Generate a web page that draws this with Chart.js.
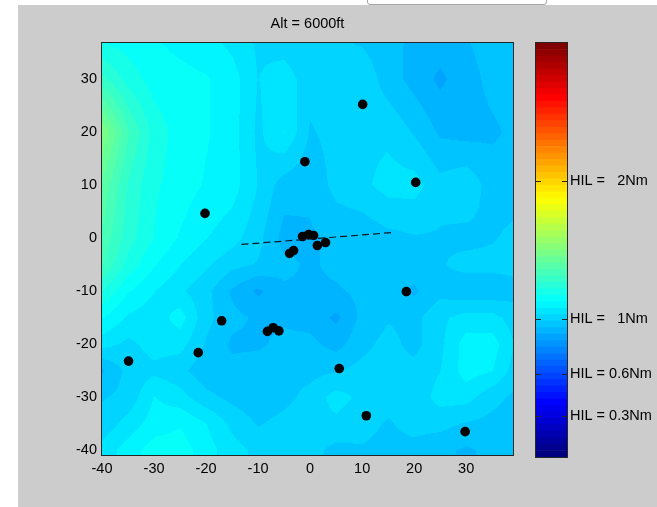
<html>
<head>
<title>Alt = 6000ft</title>
<style>
  body { margin: 0; width: 657px; height: 507px; background: #fff; position: relative; overflow: hidden; }
  #fig { position: absolute; left: 18px; top: 5px; right: 0; bottom: 0; background: #cccccc; }
  #btn { position: absolute; left: 367px; top: -3px; width: 178px; height: 6px; background: #fff;
         border: 1px solid #a8a8a8; border-radius: 0 0 3px 3px; }
  #main { position: absolute; left: 0; top: 0; }
  #cbar { position: absolute; left: 530px; top: 0; }
</style>
<script src="https://cdn.jsdelivr.net/npm/chart.js@4.4.0/dist/chart.umd.min.js"></script>
</head>
<body>
<div id="fig"></div>
<div id="btn"></div>
<canvas id="main" width="657" height="507"></canvas>
<canvas id="cbar" width="127" height="507"></canvas>
<script>
// HIL field (Nm), rows top (y=40) to bottom (y=-40), columns x=-40..40
const gridX = [-40, -35, -30, -25, -20, -15, -10, -5, 0, 5, 10, 15, 20, 25, 30, 35, 40];
const gridY = [40, 30, 20, 10, 0, -5, -10, -15, -20, -25, -30, -35, -40];
const hil = [
  [1.12, 1.13, 1.12, 1.10, 1.08, 1.05, 1.02, 0.98, 0.98, 0.98, 0.96, 0.95, 0.93, 0.93, 0.94, 0.96, 0.97],
  [1.28, 1.20, 1.15, 1.14, 1.13, 1.10, 1.03, 1.06, 1.00, 1.02, 1.02, 0.96, 0.92, 0.88, 0.92, 0.95, 0.96],
  [1.50, 1.32, 1.20, 1.15, 1.13, 1.10, 1.02, 1.08, 0.98, 1.00, 1.02, 1.02, 0.98, 0.93, 0.92, 0.93, 0.95],
  [1.40, 1.26, 1.18, 1.15, 1.12, 1.10, 1.03, 0.96, 0.95, 1.00, 1.02, 1.05, 1.05, 1.00, 1.02, 0.96, 0.96],
  [1.35, 1.24, 1.17, 1.12, 1.08, 1.05, 1.00, 0.92, 0.93, 0.95, 0.95, 0.97, 0.98, 0.98, 0.97, 0.98, 1.00],
  [1.32, 1.20, 1.13, 1.08, 1.04, 1.00, 0.98, 0.95, 0.93, 0.95, 0.97, 0.95, 0.96, 0.98, 1.00, 1.00, 1.00],
  [1.22, 1.13, 1.08, 1.04, 1.00, 0.93, 0.88, 0.93, 0.93, 0.93, 0.95, 0.95, 0.93, 0.97, 0.95, 0.95, 0.97],
  [1.13, 1.07, 1.05, 1.10, 1.00, 0.95, 0.93, 0.93, 0.92, 0.88, 0.95, 0.98, 0.97, 1.02, 1.05, 1.05, 1.00],
  [1.05, 1.02, 1.05, 1.05, 0.98, 0.93, 0.93, 0.95, 0.95, 0.92, 0.97, 1.00, 0.97, 1.02, 1.10, 1.10, 1.02],
  [0.93, 1.00, 1.02, 1.00, 0.95, 0.95, 0.96, 0.97, 0.97, 0.98, 1.00, 1.00, 1.00, 1.03, 1.10, 1.08, 1.00],
  [0.98, 1.00, 1.08, 1.05, 1.00, 0.97, 0.95, 0.97, 1.00, 1.05, 1.02, 1.00, 1.00, 1.05, 1.05, 1.00, 0.97],
  [1.00, 1.05, 1.10, 1.12, 1.08, 1.02, 0.98, 1.00, 1.02, 1.02, 1.00, 0.98, 1.00, 1.00, 0.98, 0.97, 0.96],
  [1.05, 1.10, 1.15, 1.15, 1.10, 1.05, 1.02, 1.02, 1.00, 0.97, 0.98, 0.97, 0.97, 0.95, 0.93, 0.95, 0.95]
];

// sites
const ptX = [10.1, -1.0, 20.3, -20.2, -1.45, -0.3, 0.66, 1.4, 2.96, -3.94, -3.18, 18.5, -17.0, -8.2, -7.1, -6.0, -21.5, -34.9, 5.6, 10.8, 29.8];
const ptY = [25.2, 14.4, 10.5, 4.65, 0.3, 0.68, 0.49, -1.4, -0.84, -2.9, -2.35, -10.1, -15.6, -17.6, -16.9, -17.5, -21.6, -23.2, -24.6, -33.5, -36.5];

// dashed track
const trackX = [-13.2, 15.9];
const trackY = [-1.2, 1.05];

const xTicks = [-40, -30, -20, -10, 0, 10, 20, 30];
const yTicks = [-40, -30, -20, -10, 0, 10, 20, 30];
const cbTicks = [0.3, 0.6, 1, 2];
const cbLabels = ['HIL = 0.3Nm', 'HIL = 0.6Nm', 'HIL =   1Nm', 'HIL =   2Nm'];
const titleText = 'Alt = 6000ft';

const cMin = 0, cMax = 3, nColors = 64;
const font = { family: "'Liberation Sans', Arial, sans-serif", size: 14.5, weight: 'normal' };

function jet(t) {
  const f = v => Math.max(0, Math.min(1, v));
  return [f(1.5 - Math.abs(4 * t - 3)), f(1.5 - Math.abs(4 * t - 2)), f(1.5 - Math.abs(4 * t - 1))].map(v => Math.round(v * 255));
}
const cmap = [];
for (let i = 0; i < nColors; i++) cmap.push(jet(i / (nColors - 1)));

function seg(arr, v, desc) {
  for (let i = 0; i < arr.length - 1; i++) {
    const a = arr[i], b = arr[i + 1];
    if (desc ? (v <= a && v >= b) : (v >= a && v <= b)) return [i, (v - a) / (b - a)];
  }
  return desc ? (v > arr[0] ? [0, 0] : [arr.length - 2, 1]) : (v < arr[0] ? [0, 0] : [arr.length - 2, 1]);
}
function field(x, y) {
  const [i, fx] = seg(gridX, x, false);
  const [j, fy] = seg(gridY, y, true);
  const top = hil[j][i] * (1 - fx) + hil[j][i + 1] * fx;
  const bot = hil[j + 1][i] * (1 - fx) + hil[j + 1][i + 1] * fx;
  return top * (1 - fy) + bot * fy;
}

const contourPlugin = {
  id: 'contour',
  beforeDatasetsDraw(chart) {
    const { ctx, chartArea: a, scales: { x, y } } = chart;
    const w = Math.round(a.right - a.left), h = Math.round(a.bottom - a.top);
    const off = document.createElement('canvas');
    off.width = w; off.height = h;
    const octx = off.getContext('2d');
    const img = octx.createImageData(w, h);
    for (let j = 0; j < h; j++) {
      const vy = y.getValueForPixel(a.top + j + 0.5);
      for (let i = 0; i < w; i++) {
        const vx = x.getValueForPixel(a.left + i + 0.5);
        const v = field(vx, vy);
        let k = Math.floor((v - cMin) / (cMax - cMin) * nColors);
        k = Math.max(0, Math.min(nColors - 1, k));
        const c = cmap[k], p = (j * w + i) * 4;
        img.data[p] = c[0]; img.data[p + 1] = c[1]; img.data[p + 2] = c[2]; img.data[p + 3] = 255;
      }
    }
    octx.putImageData(img, 0, 0);
    ctx.drawImage(off, a.left, a.top);
  },
  afterDraw(chart) {
    const { ctx, chartArea: a } = chart;
    ctx.save();
    ctx.strokeStyle = '#262626';
    ctx.lineWidth = 1;
    ctx.strokeRect(Math.round(a.left) - 0.5, Math.round(a.top) - 0.5, Math.round(a.right - a.left) + 1, Math.round(a.bottom - a.top) + 1);
    ctx.restore();
  }
};

new Chart(document.getElementById('main'), {
  type: 'scatter',
  data: {
    datasets: [
      {
        type: 'line',
        data: trackX.map((x, i) => ({ x: x, y: trackY[i] })),
        borderColor: '#0c1722',
        borderWidth: 1.2,
        borderDash: [7, 4],
        pointRadius: 0,
        fill: false
      },
      {
        data: ptX.map((x, i) => ({ x: x, y: ptY[i] })),
        backgroundColor: '#000',
        borderWidth: 0,
        pointRadius: 4.8
      }
    ]
  },
  options: {
    responsive: false,
    animation: false,
    events: [],
    layout: { padding: { left: 0, right: 144, top: 0, bottom: 0 } },
    plugins: {
      legend: { display: false },
      tooltip: { enabled: false },
      title: { display: true, fullSize: false, text: titleText, color: '#000', font: font, padding: { top: 15.5, bottom: 10 } }
    },
    scales: {
      x: {
        type: 'linear', min: -40, max: 39,
        grid: { display: false, drawTicks: false }, border: { display: false },
        afterBuildTicks: s => { s.ticks = xTicks.map(v => ({ value: v })); },
        afterFit: s => { s.height = 52; },
        ticks: { color: '#000', font: font, padding: 5, maxRotation: 0, autoSkip: false }
      },
      y: {
        type: 'linear', min: -40.9, max: 36.8,
        grid: { display: false, drawTicks: false }, border: { display: false },
        afterBuildTicks: s => { s.ticks = yTicks.map(v => ({ value: v })); },
        afterFit: s => { s.width = 102; },
        ticks: { color: '#000', font: font, padding: 5, autoSkip: false }
      }
    }
  },
  plugins: [contourPlugin]
});

const cbarPlugin = {
  id: 'cbarBox',
  afterDraw(chart) {
    const { ctx, chartArea: a, scales: { y } } = chart;
    ctx.save();
    ctx.strokeStyle = '#262626';
    ctx.lineWidth = 1;
    const l = Math.round(a.left), r = Math.round(a.right);
    cbTicks.forEach(v => {
      const py = Math.round(y.getPixelForValue(v)) + 0.5;
      ctx.beginPath();
      ctx.moveTo(l, py); ctx.lineTo(l + 5, py);
      ctx.moveTo(r - 5, py); ctx.lineTo(r, py);
      ctx.stroke();
    });
    ctx.strokeRect(l - 0.5, Math.round(a.top) - 0.5, r - l + 1, Math.round(a.bottom - a.top) + 1);
    ctx.restore();
  }
};

new Chart(document.getElementById('cbar'), {
  type: 'bar',
  data: {
    labels: [''],
    datasets: cmap.map(c => ({
      data: [(cMax - cMin) / nColors],
      backgroundColor: 'rgb(' + c.join(',') + ')',
      borderWidth: 0,
      barPercentage: 1,
      categoryPercentage: 1
    }))
  },
  options: {
    responsive: false,
    animation: false,
    events: [],
    layout: { padding: { left: 6, right: 0, top: 43, bottom: 50 } },
    plugins: { legend: { display: false }, tooltip: { enabled: false } },
    scales: {
      x: { display: false, stacked: true },
      y: {
        stacked: true, position: 'right', min: cMin, max: cMax,
        grid: { display: false, drawTicks: false }, border: { display: false },
        afterBuildTicks: s => { s.ticks = cbTicks.map(v => ({ value: v })); },
        afterFit: s => { s.width = 90; },
        ticks: { color: '#000', font: font, padding: 3, callback: (v, i) => cbLabels[i] }
      }
    }
  },
  plugins: [cbarPlugin]
});
</script>
</body>
</html>
